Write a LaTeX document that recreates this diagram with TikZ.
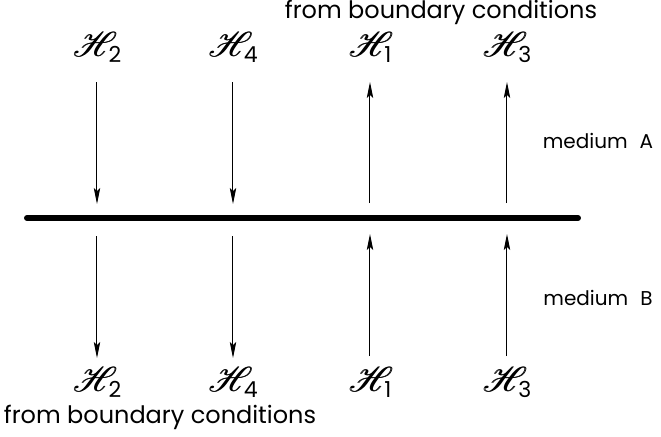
\documentclass[tikz,border=0pt]{standalone}
\usepackage{fontspec}
\setmainfont{Poppins}
\usepackage{mathrsfs}
\usetikzlibrary{arrows.meta}

% script H, printed twice with a small shift to make it heavier
\newcommand{\hbold}{\rlap{$\mathscr{H}$}\hspace{0.45pt}$\mathscr{H}$}
\newcommand{\hfield}[1]{\hbold\hspace{-4.5pt}\raisebox{-3pt}{\fontsize{11}{12}\selectfont #1}}

\begin{document}
\begin{tikzpicture}[x=0.5pt, y=-0.5pt, >={Stealth[length=8pt,width=3.2pt,inset=1.5pt]},
    hlabel/.style={font=\fontsize{19}{21}\selectfont, inner sep=0pt, text height=9pt, text depth=4pt},
    bctext/.style={font=\fontsize{12}{14}\selectfont, inner sep=1pt},
    medtext/.style={font=\fontsize{10}{12}\selectfont}]
    \useasboundingbox (0,0) rectangle (661,436);

    % interface between the two media
    \coordinate (ifleft) at (27,218);
    \coordinate (ifright) at (578,218);
    \draw[line width=3pt, line cap=round] (ifleft) -- (ifright);

    % waves going away from the interface
    \foreach \x/\k in {97/2, 233/4} {
        \node[hlabel] (top\k) at (\x,51) {\hfield{\k}};
        \node[hlabel] (bot\k) at (\x,386) {\hfield{\k}};
        \coordinate (a\k) at (\x,82);
        \coordinate (b\k) at (\x,204);
        \coordinate (c\k) at (\x,236);
        \coordinate (d\k) at (\x,358);
        \draw[->, line width=0.5pt] (a\k) -- (b\k);
        \draw[->, line width=0.5pt] (c\k) -- (d\k);
    }

    % waves going towards the interface
    \foreach \x/\k in {370/1, 507/3} {
        \node[hlabel] (top\k) at (\x,51) {\hfield{\k}};
        \node[hlabel] (bot\k) at (\x,386) {\hfield{\k}};
        \coordinate (a\k) at (\x,82);
        \coordinate (b\k) at (\x,203);
        \coordinate (c\k) at (\x,234);
        \coordinate (d\k) at (\x,356);
        \draw[->, line width=0.5pt] (b\k) -- (a\k);
        \draw[->, line width=0.5pt] (d\k) -- (c\k);
    }

    \node[bctext] (bctop) at (441,12) {from boundary conditions};
    \node[bctext] (bcbot) at (160,417) {from boundary conditions};
    \node[medtext] (meda) at (598,141) {medium\hspace{0.6em}A};
    \node[medtext] (medb) at (598,298) {medium\hspace{0.6em}B};
\end{tikzpicture}
\end{document}
